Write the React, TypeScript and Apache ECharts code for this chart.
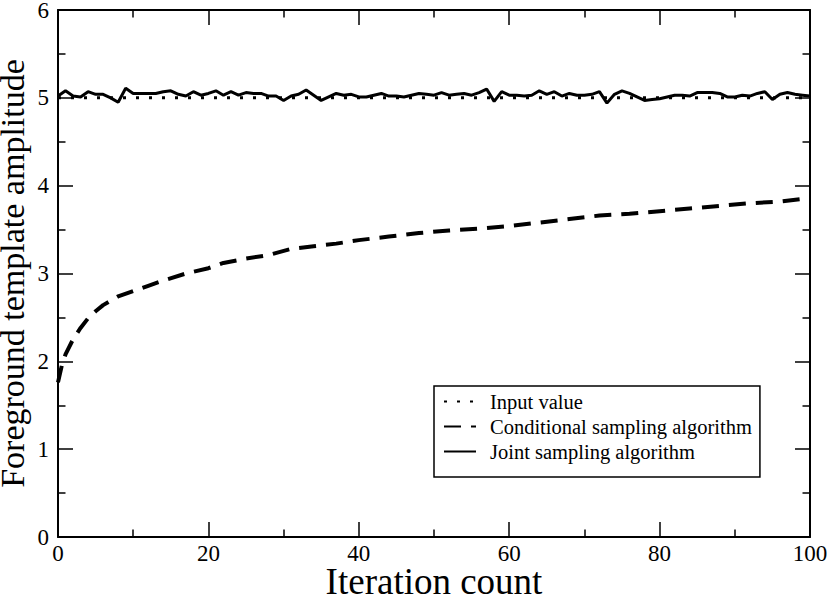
import React, { useEffect, useRef } from "react";
import * as echarts from "echarts";

const xTicks = [0, 20, 40, 60, 80, 100];
const yTicks = [0, 1, 2, 3, 4, 5, 6];

const inputX = [0, 100];
const inputY = [5, 5];

const condX = [0, 0.5, 1, 2, 3, 4, 5, 6, 8, 10, 12, 14, 17, 20, 22, 25, 28, 31, 34, 37, 40, 44, 48, 52, 56, 60, 64, 68, 72, 76, 80, 84, 88, 92, 96, 100];
const condY = [1.76, 1.95, 2.08, 2.25, 2.38, 2.49, 2.57, 2.64, 2.74, 2.8, 2.86, 2.92, 3.0, 3.06, 3.12, 3.17, 3.21, 3.28, 3.31, 3.34, 3.38, 3.42, 3.46, 3.49, 3.51, 3.54, 3.58, 3.62, 3.66, 3.68, 3.71, 3.74, 3.77, 3.8, 3.82, 3.86];

const jointY = [
  5.02, 5.08, 5.02, 5.01, 5.07, 5.04, 5.04, 5.0, 4.95, 5.11,
  5.05, 5.05, 5.05, 5.05, 5.07, 5.08, 5.04, 5.02, 5.07, 5.03,
  5.05, 5.08, 5.03, 5.07, 5.03, 5.06, 5.05, 5.05, 5.02, 5.02,
  4.97, 5.02, 5.04, 5.09, 5.03, 4.97, 5.01, 5.05, 5.03, 5.04,
  5.01, 5.01, 5.03, 5.05, 5.02, 5.02, 5.01, 5.03, 5.05, 5.04,
  5.03, 5.06, 5.03, 5.04, 5.05, 5.03, 5.06, 5.1, 4.96, 5.07,
  5.03, 5.03, 5.02, 5.03, 5.08, 5.04, 5.07, 5.02, 5.05, 5.03,
  5.03, 5.04, 5.07, 4.94, 5.04, 5.08, 5.05, 5.01, 4.97, 4.98,
  4.99, 5.01, 5.03, 5.03, 5.02, 5.06, 5.06, 5.06, 5.05, 5.01,
  5.01, 5.03, 5.02, 5.05, 5.07, 4.98, 5.04, 5.06, 5.04, 5.03,
  5.02,
];

const seriesNames = ["Input value", "Conditional sampling algorithm", "Joint sampling algorithm"];

const FONT = "Liberation Serif";

function axisParts() {
  return {
    axisLine: { show: true, onZero: false, lineStyle: { color: "#000", width: 2 } },
    axisTick: { show: true, inside: true, length: 15, lineStyle: { color: "#000", width: 1.5 } },
    minorTick: { show: true, splitNumber: 2, length: 7.5, lineStyle: { color: "#000", width: 1.5 } },
    splitLine: { show: false },
    minorSplitLine: { show: false },
  };
}

export default function App() {
  const ref = useRef<HTMLDivElement>(null);
  useEffect(() => {
    if (!ref.current) return;
    const chart = echarts.init(ref.current, null, { renderer: "svg" });
    chart.setOption({
      animation: false,
      backgroundColor: "#fff",
      textStyle: { fontFamily: FONT },
      grid: { left: 58, right: 20, top: 10, bottom: 59, containLabel: false, outerBoundsMode: "none" },
      legend: {
        show: true,
        orient: "vertical",
        left: 434,
        top: 386,
        itemWidth: 32,
        itemHeight: 14,
        itemGap: 4,
        padding: [5, 8, 15, 9],
        borderColor: "#000",
        borderWidth: 1.5,
        selectedMode: false,
        itemStyle: { opacity: 0 },
        textStyle: { fontFamily: FONT, fontSize: 20.5, lineHeight: 20, color: "#000", padding: [0, 0, 0, 9] },
        data: seriesNames,
      },
      xAxis: [
        {
          type: "value",
          min: 0,
          max: 100,
          interval: 20,
          name: "Iteration count",
          nameLocation: "middle",
          nameGap: 31,
          nameMoveOverlap: false,
          nameTextStyle: { fontFamily: FONT, fontSize: 37, lineHeight: 26, color: "#000" },
          ...axisParts(),
          axisLabel: { fontFamily: FONT, fontSize: 23, lineHeight: 18, color: "#000", margin: 7 },
        },
        {
          type: "value",
          position: "top",
          min: 0,
          max: 100,
          interval: 20,
          ...axisParts(),
          axisLabel: { show: false },
        },
      ],
      yAxis: [
        {
          type: "value",
          min: 0,
          max: 6,
          interval: 1,
          name: "Foreground template amplitude",
          nameLocation: "middle",
          nameGap: 35,
          nameMoveOverlap: false,
          nameTextStyle: { fontFamily: FONT, fontSize: 34, lineHeight: 22, color: "#000" },
          ...axisParts(),
          axisLabel: { fontFamily: FONT, fontSize: 23, lineHeight: 18, color: "#000", margin: 9 },
        },
        {
          type: "value",
          position: "right",
          min: 0,
          max: 6,
          interval: 1,
          ...axisParts(),
          axisLabel: { show: false },
        },
      ],
      series: [
        {
          name: seriesNames[0],
          type: "line",
          showSymbol: false,
          symbol: "none",
          data: inputX.map((x, i) => [x, inputY[i]]),
          lineStyle: { color: "#000", width: 3, type: [3, 10] },
          itemStyle: { color: "#000" },
          z: 3,
        },
        {
          name: seriesNames[1],
          type: "line",
          showSymbol: false,
          symbol: "none",
          data: condX.map((x, i) => [x, condY[i]]),
          lineStyle: { color: "#000", width: 4, type: [17, 10] },
          itemStyle: { color: "#000" },
        },
        {
          name: seriesNames[2],
          type: "line",
          showSymbol: false,
          symbol: "none",
          data: jointY.map((y, i) => [i, y]),
          lineStyle: { color: "#000", width: 3 },
          itemStyle: { color: "#000" },
        },
      ],
    });
    return () => chart.dispose();
  }, []);
  return (
    <div
      ref={ref}
      style={{ position: "fixed", left: 0, top: 0, width: 830, height: 596, background: "#fff" }}
    />
  );
}
